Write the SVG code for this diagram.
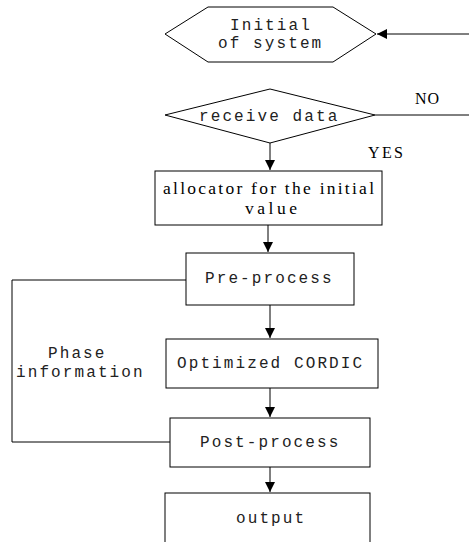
<svg xmlns="http://www.w3.org/2000/svg" width="469" height="542" viewBox="0 0 469 542">
<style>
.shape{fill:#fff;stroke:#000;stroke-width:1}
.line{fill:none;stroke:#000;stroke-width:1}
.mono{font-family:"Liberation Mono","DejaVu Sans Mono",monospace;font-size:16px;letter-spacing:2.1px;fill:#222}
.serif{font-family:"Liberation Serif","Times New Roman",serif;font-size:16px;fill:#000}
.big{font-size:17.5px}
</style>
<defs>
<marker id="ah" markerWidth="12" markerHeight="12" refX="10" refY="5" orient="auto" markerUnits="userSpaceOnUse">
<path d="M0,0 L10,5 L0,10 Z" fill="#000"/>
</marker>
</defs>
<rect width="469" height="542" fill="#fff"/>
<g id="connectors">
<line class="line" x1="469" y1="34" x2="377" y2="34" marker-end="url(#ah)"/>
<line class="line" x1="375" y1="115" x2="469" y2="115"/>
<line class="line" x1="270" y1="143" x2="270" y2="170" marker-end="url(#ah)"/>
<line class="line" x1="268" y1="225" x2="268" y2="252" marker-end="url(#ah)"/>
<line class="line" x1="270" y1="305" x2="270" y2="338" marker-end="url(#ah)"/>
<line class="line" x1="270" y1="388" x2="270" y2="417" marker-end="url(#ah)"/>
<line class="line" x1="270" y1="456" x2="270" y2="492" marker-end="url(#ah)"/>
<polyline class="line" points="186,280 12,280 12,442 170,442"/>
<text class="serif" x="415" y="104" textLength="24">NO</text>
<text class="serif" x="368" y="158" textLength="35">YES</text>
<text class="mono" x="48" y="358">Phase</text>
<text class="mono" x="16" y="377">information</text>
</g>
<g id="initial">
<polygon class="shape" points="165,34 208,7 333,7 376,34 333,62 208,62"/>
<text class="mono" x="230" y="30">Initial</text>
<text class="mono" x="218" y="48">of system</text>
</g>
<g id="receive">
<polygon class="shape" points="165,115 270,89 375,115 270,143"/>
<text class="mono" x="199" y="121">receive data</text>
</g>
<g id="allocator">
<rect class="shape" x="155" y="171" width="227" height="54"/>
<text class="serif big" x="163" y="194" textLength="211">allocator for the initial</text>
<text class="serif big" x="245" y="214" textLength="52">value</text>
</g>
<g id="preprocess">
<rect class="shape" x="186" y="253" width="168" height="52"/>
<text class="mono" x="205" y="283">Pre-process</text>
</g>
<g id="cordic">
<rect class="shape" x="166" y="339" width="212" height="49"/>
<text class="mono" x="177" y="368">Optimized CORDIC</text>
</g>
<g id="postprocess">
<rect class="shape" x="170" y="418" width="200" height="49"/>
<text class="mono" x="200" y="447">Post-process</text>
</g>
<g id="output">
<rect class="shape" x="165" y="493" width="205" height="52"/>
<text class="mono" x="236" y="523">output</text>
</g>
</svg>
